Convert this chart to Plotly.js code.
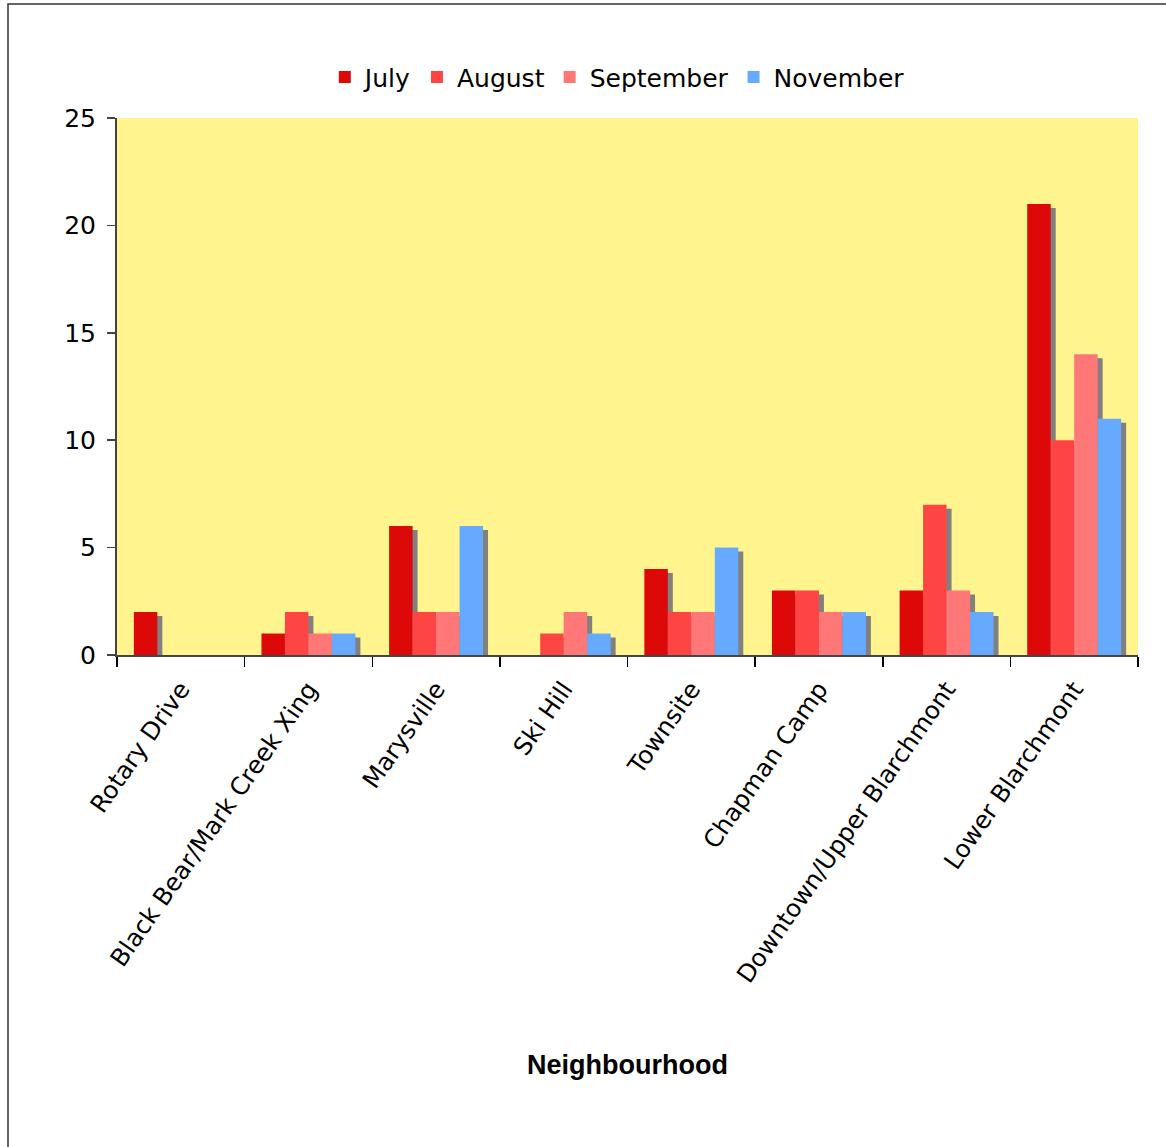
<!DOCTYPE html>
<html>
<head>
<meta charset="utf-8">
<script src="https://cdn.plot.ly/plotly-3.0.1.min.js"></script>
<style>html,body{margin:0;padding:0;background:#fff;}#chart{width:1166px;height:1147px;}</style>
</head>
<body>
<div id="chart"></div>
<script>
const categories = ["Rotary Drive", "Black Bear/Mark Creek Xing", "Marysville", "Ski Hill", "Townsite", "Chapman Camp", "Downtown/Upper Blarchmont", "Lower Blarchmont"];
const seriesNames = ["July", "August", "September", "November"];
const july      = [2, 1, 6, 0, 4, 3, 3, 21];
const august    = [0, 2, 2, 1, 2, 3, 7, 10];
const september = [0, 1, 2, 2, 2, 2, 3, 14];
const november  = [0, 1, 6, 1, 5, 2, 2, 11];
const seriesValues = [july, august, september, november];
const colors = ["#DD0808", "#FF4444", "#FF7777", "#66AAFF"];

const W = 1166, H = 1147;
const margin = {l: 117, r: 28, t: 118, b: 492};
const plotW = W - margin.l - margin.r;
const plotH = H - margin.t - margin.b;
const yMax = 25;
const pxPerCat = plotW / categories.length;
const barW = 0.184;
const groupW = barW * seriesNames.length;
const shadowDx = 5 / pxPerCat;
const shadowDy = 4 / plotH * yMax;

const traces = [];
seriesNames.forEach((name, i) => {
  const off = -groupW / 2 + i * barW;
  traces.push({
    type: "bar", x: categories, y: seriesValues[i], base: -shadowDy,
    offset: off + shadowDx, width: barW, marker: {color: "#808080", line: {width: 0}},
    showlegend: false, hoverinfo: "skip"
  });
  traces.push({
    type: "bar", name: name, x: categories, y: seriesValues[i],
    offset: off, width: barW, marker: {color: colors[i], line: {width: 0}}
  });
});

const font = "'DejaVu Sans', sans-serif";
const layout = {
  width: W, height: H, margin: margin,
  paper_bgcolor: "#ffffff", plot_bgcolor: "#FFF48E",
  barmode: "overlay",
  font: {family: font, size: 23, color: "#000"},
  showlegend: true,
  legend: {orientation: "h", x: 0.49, xanchor: "center", y: 1.076, yanchor: "middle",
           font: {family: font, size: 25, color: "#000"}, traceorder: "normal", itemwidth: 30},
  xaxis: {
    range: [-0.5, categories.length - 0.5], type: "category",
    tickangle: -55, ticks: "outside", ticklen: 10, tickcolor: "#000", tickwidth: 1.5,
    tickson: "boundaries", showline: true, linecolor: "#444", linewidth: 2,
    showgrid: false, zeroline: false, tickfont: {family: font, size: 24.5}, ticklabelstandoff: 8,
    title: {text: "Neighbourhood", font: {family: "'Liberation Sans', Arial, sans-serif", size: 27, weight: "bold"}, standoff: 68}
  },
  yaxis: {
    range: [0, yMax], tickvals: [0, 5, 10, 15, 20, 25], ticks: "outside", ticklen: 8,
    tickcolor: "#444", tickwidth: 1.5, showline: true, linecolor: "#444", linewidth: 2,
    showgrid: false, zeroline: false, tickfont: {family: font, size: 25}, ticklabelstandoff: 6
  },
  shapes: [{
    type: "rect", xref: "paper", yref: "paper",
    x0: (8 - margin.l) / plotW, x1: 1.2, y0: -1.2, y1: (H - margin.b - 4) / plotH,
    line: {color: "#333", width: 1.5}, fillcolor: "rgba(0,0,0,0)", layer: "below"
  }]
};

Plotly.newPlot("chart", traces, layout, {displayModeBar: false, staticPlot: true});
</script>
</body>
</html>
